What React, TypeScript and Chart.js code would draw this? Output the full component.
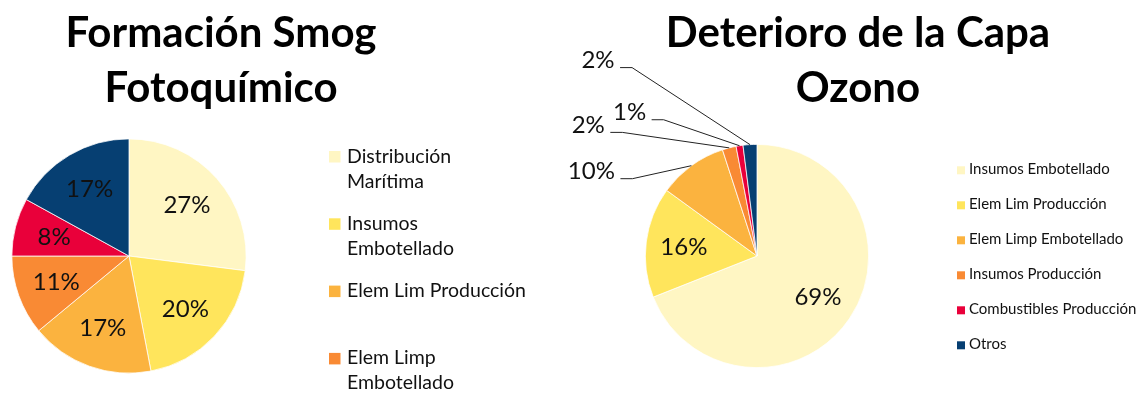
import React, { useEffect, useRef } from "react";
import { Chart, registerables } from "chart.js";

Chart.register(...registerables);

// ---------- data ----------
const smogTitle = ["Formación Smog", "Fotoquímico"];
const smogCategories = [
  "Distribución Marítima",
  "Insumos Embotellado",
  "Elem Lim Producción",
  "Elem Limp Embotellado",
  "Combustibles Producción",
  "Otros",
];
const smogValues = [27, 20, 17, 11, 8, 17];

const ozonoTitle = ["Deterioro de la Capa", "Ozono"];
const ozonoCategories = [
  "Insumos Embotellado",
  "Elem Lim Producción",
  "Elem Limp Embotellado",
  "Insumos Producción",
  "Combustibles Producción",
  "Otros",
];
const ozonoValues = [69, 16, 10, 2, 1, 2];

// ---------- styles ----------
const sliceColors = ["#FFF6C3", "#FFE55C", "#FBB33F", "#F98A34", "#E9003A", "#063F72"];
const FONT = "Lato, 'Open Sans', sans-serif";

// label offsets (from slice outer edge) for outside labels of the ozone pie
const ozonoOutsideOffsets: (number[] | null)[] = [null, null, [-100, 6], [-141, -22.5], [-110, -33], [-152, -84]];

function wrapText(ctx: CanvasRenderingContext2D, text: string, maxWidth: number): string[] {
  const words = text.split(" ");
  const lines: string[] = [];
  let cur = "";
  for (const w of words) {
    const t = cur ? cur + " " + w : w;
    if (cur && ctx.measureText(t).width > maxWidth) {
      lines.push(cur);
      cur = w;
    } else cur = t;
  }
  if (cur) lines.push(cur);
  return lines;
}

const decorPlugin = {
  id: "decor",
  afterDatasetsDraw(chart: any) {
    const o = chart.options.plugins.decor;
    if (!o) return;
    const ctx: CanvasRenderingContext2D = chart.ctx;
    const meta = chart.getDatasetMeta(0);
    const data: number[] = chart.data.datasets[0].data;
    const total = data.reduce((a, b) => a + b, 0);
    ctx.save();
    ctx.font = `${o.labelSize}px ${FONT}`;
    ctx.fillStyle = "#111";
    ctx.textAlign = "center";
    ctx.textBaseline = "middle";
    meta.data.forEach((arc: any, i: number) => {
      const p = arc.getProps(["x", "y", "startAngle", "endAngle", "outerRadius"], true);
      const mid = (p.startAngle + p.endAngle) / 2;
      const txt = Math.round((data[i] / total) * 100) + "%";
      const off = o.outside ? o.outside[i] : null;
      if (off) {
        const ax = p.x + Math.cos(mid) * p.outerRadius;
        const ay = p.y + Math.sin(mid) * p.outerRadius;
        const cx = ax + off[0];
        const cy = ay + off[1];
        const w = ctx.measureText(txt).width;
        ctx.fillText(txt, cx, cy);
        const sx = cx + w / 2 + 5.5;
        const sy = cy + 7;
        ctx.beginPath();
        ctx.strokeStyle = "#222";
        ctx.lineWidth = 1;
        ctx.moveTo(sx, sy);
        ctx.lineTo(sx + 12, sy);
        ctx.lineTo(ax, ay);
        ctx.stroke();
      } else {
        const r = p.outerRadius * o.insideFactor;
        ctx.fillText(txt, p.x + Math.cos(mid) * r, p.y + Math.sin(mid) * r);
      }
    });
    ctx.restore();
  },
  afterDraw(chart: any) {
    const o = chart.options.plugins.decor;
    if (!o) return;
    const ctx: CanvasRenderingContext2D = chart.ctx;
    ctx.save();
    // title
    ctx.fillStyle = "#000";
    ctx.textAlign = "center";
    ctx.textBaseline = "alphabetic";
    ctx.font = `bold ${o.titleSize}px ${FONT}`;
    o.title.forEach((line: string, i: number) => {
      ctx.fillText(line, o.titleX, o.titleBaseline + i * o.titleLineHeight);
    });
    // legend
    const lg = o.legend;
    ctx.font = `${lg.size}px ${FONT}`;
    ctx.textAlign = "left";
    const labels: string[] = chart.data.labels;
    const colors: string[] = chart.data.datasets[0].backgroundColor;
    labels.forEach((lab, i) => {
      const base = lg.firstBaseline + i * lg.step;
      ctx.fillStyle = colors[i];
      ctx.fillRect(lg.boxX, base - lg.box, lg.box, lg.box);
      ctx.fillStyle = "#111";
      const lines = lg.maxWidth ? wrapText(ctx, lab, lg.maxWidth) : [lab];
      lines.forEach((ln, j) => ctx.fillText(ln, lg.textX, base + j * lg.lineHeight));
    });
    ctx.restore();
  },
};

function PieChart(props: {
  width: number;
  left: number;
  labels: string[];
  values: number[];
  padding: any;
  decor: any;
}) {
  const ref = useRef<HTMLCanvasElement>(null);
  useEffect(() => {
    if (!ref.current) return;
    const chart = new Chart(ref.current, {
      type: "pie",
      data: {
        labels: props.labels,
        datasets: [
          {
            data: props.values,
            backgroundColor: sliceColors,
            borderColor: "#ffffff",
            borderWidth: 0.75,
          },
        ],
      },
      options: {
        responsive: false,
        animation: false,
        devicePixelRatio: 1,
        layout: { padding: props.padding },
        plugins: {
          legend: { display: false },
          title: { display: false },
          tooltip: { enabled: false },
          decor: props.decor,
        } as any,
      },
      plugins: [decorPlugin],
    });
    return () => chart.destroy();
  }, []);
  return (
    <canvas
      ref={ref}
      width={props.width}
      height={396}
      style={{ position: "absolute", left: props.left, top: 0, width: props.width, height: 396 }}
    />
  );
}

export default function App() {
  return (
    <div style={{ position: "fixed", left: 0, top: 0, width: 1142, height: 396, background: "#fff", overflow: "hidden" }}>
      <PieChart
        width={560}
        left={0}
        labels={smogCategories}
        values={smogValues}
        padding={{ left: 11.5, top: 138.5, right: 313.5, bottom: 22.5 }}
        decor={{
          title: smogTitle,
          titleX: 221,
          titleBaseline: 47,
          titleLineHeight: 55,
          titleSize: 42,
          labelSize: 24,
          insideFactor: 0.66,
          outside: null,
          legend: {
            size: 19.5,
            boxX: 329,
            box: 11.5,
            textX: 347,
            firstBaseline: 162.5,
            step: 67.3,
            lineHeight: 25,
            maxWidth: 180,
          },
        }}
      />
      <PieChart
        width={582}
        left={560}
        labels={ozonoCategories}
        values={ozonoValues}
        padding={{ left: 85, top: 144, right: 273, bottom: 28 }}
        decor={{
          title: ozonoTitle,
          titleX: 298,
          titleBaseline: 47,
          titleLineHeight: 55,
          titleSize: 42,
          labelSize: 24,
          insideFactor: 0.66,
          outside: ozonoOutsideOffsets,
          legend: {
            size: 15,
            boxX: 397,
            box: 8,
            textX: 409,
            firstBaseline: 174.3,
            step: 35,
            lineHeight: 18,
            maxWidth: 0,
          },
        }}
      />
    </div>
  );
}
